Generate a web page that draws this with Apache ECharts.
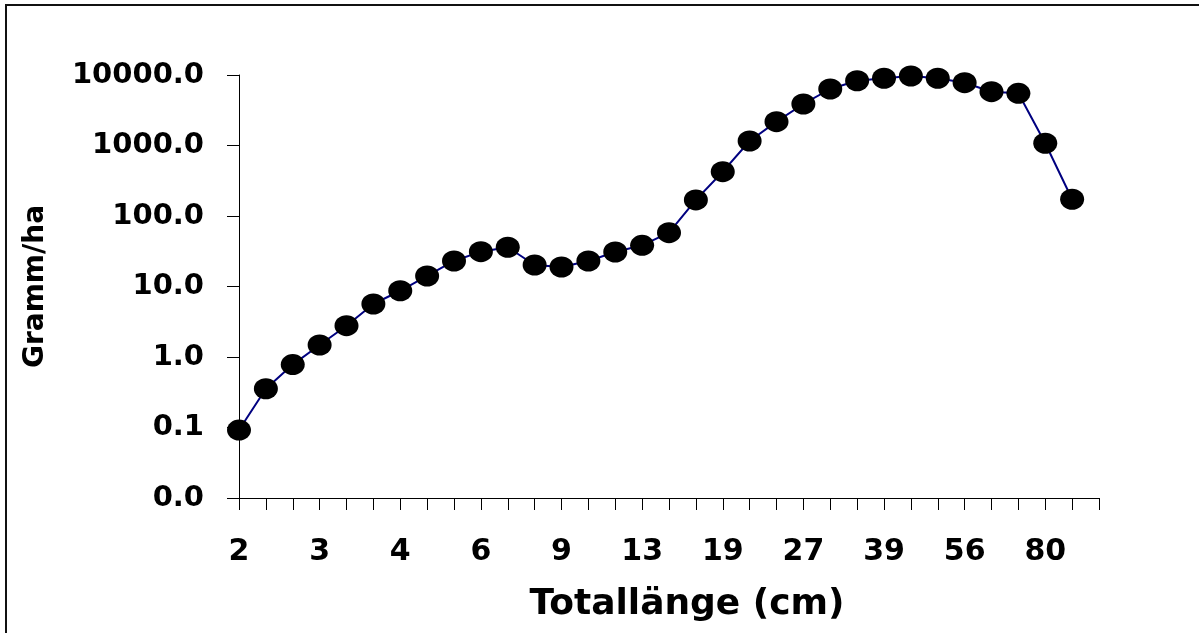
<!DOCTYPE html>
<html>
<head>
<meta charset="utf-8">
<script src="https://cdn.jsdelivr.net/npm/echarts@6/dist/echarts.min.js"></script>
<style>
html,body{margin:0;padding:0;background:#fff;}
#chart{width:1199px;height:633px;}
</style>
</head>
<body>
<div id="chart"></div>
<script>
// Length classes (cm); only every third one is labelled on the axis
var categories = ["2","2.3","2.6","3","3.3","3.7","4","4.7","5.3","6","6.7","7.6","9","9.7","11","13","14","16","19","21","24","27","31","35","39","44","50","56","64","72","80","91",""];
// Biomass (Gramm/ha), log scale
var values = [0.092,0.355,0.78,1.48,2.78,5.65,8.7,14.1,23.0,31.2,36.0,20.2,18.9,23.0,30.9,38.4,58.0,169,425,1158,2177,3880,6330,8300,8980,9680,8980,7780,5800,5500,1075,173,null];
var yTicks = [0.01,0.1,1,10,100,1000,10000];
var xTitle = "Totallänge (cm)";
var yTitle = "Gramm/ha";

var FONT = "DejaVu Sans";
var chart = echarts.init(document.getElementById('chart'), null, {renderer:'canvas'});
chart.setOption({
  backgroundColor: '#ffffff',
  animation: false,
  graphic: [{
    type: 'rect',
    shape: {x: 6, y: 5, width: 1300, height: 700},
    style: {fill: 'none', stroke: '#111', lineWidth: 2},
    silent: true
  }],
  grid: {left: 239, right: 100, top: 75, bottom: 135},
  xAxis: {
    type: 'category',
    data: categories,
    boundaryGap: false,
    name: xTitle,
    nameLocation: 'middle',
    nameGap: 89,
    nameTextStyle: {fontFamily: FONT, fontWeight: 'bold', fontSize: 36, color: '#000', padding: [0, 0, 0, 36]},
    axisLine: {show: true, lineStyle: {color: '#000', width: 1}},
    axisTick: {show: true, inside: false, length: 12, interval: 0, lineStyle: {color: '#000'}},
    axisLabel: {interval: 2, margin: 39, fontFamily: FONT, fontWeight: 'bold', fontSize: 30, color: '#000'},
    splitLine: {show: false}
  },
  yAxis: {
    type: 'log',
    logBase: 10,
    min: yTicks[0],
    max: yTicks[yTicks.length - 1],
    name: yTitle,
    nameLocation: 'middle',
    nameRotate: 90,
    nameGap: 189,
    nameTextStyle: {fontFamily: FONT, fontWeight: 'bold', fontSize: 28, color: '#000'},
    axisLine: {show: true, lineStyle: {color: '#000', width: 1}},
    axisTick: {show: true, inside: false, length: 12, lineStyle: {color: '#000'}},
    axisLabel: {
      margin: 35, fontFamily: FONT, fontWeight: 'bold', fontSize: 29, color: '#000',
      formatter: function (v) { return Number(v).toFixed(1); }
    },
    splitLine: {show: false}
  },
  series: [{
    type: 'line',
    data: values,
    symbol: 'circle',
    symbolSize: [24, 21],
    showAllSymbol: true,
    connectNulls: false,
    itemStyle: {color: '#000000', borderWidth: 0},
    lineStyle: {color: '#000080', width: 2}
  }]
});
</script>
</body>
</html>
